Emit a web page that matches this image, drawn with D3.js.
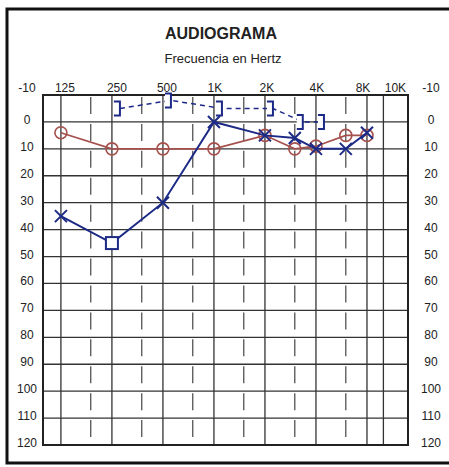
<!DOCTYPE html>
<html>
<head>
<meta charset="utf-8">
<script src="https://cdn.jsdelivr.net/npm/d3@7"></script>
<style>
  body { margin: 0; background: #fff; }
  text { font-family: "Liberation Sans", Arial, sans-serif; }
</style>
</head>
<body>
<div id="chart"></div>
<script>
// Data
const gridFreqs = [125, 250, 500, 1000, 2000, 4000, 8000, 10000];
const freqLabels = ["125", "250", "500", "1K", "2K", "4K", "8K", "10K"];
const midFreqs = [187.5, 375, 750, 1500, 3000, 6000];
const dbTicks = [-10, 0, 10, 20, 30, 40, 50, 60, 70, 80, 90, 100, 110, 120];

const testFreqs = [125, 250, 500, 1000, 2000, 3000, 4000, 6000, 8000];
const rightAir = [4, 10, 10, 10, 5, 10, 9, 5, 5];
const leftAir = [35, 45, 30, 0, 5, 6, 10, 10, 4];
const leftAirMarks = ["x", "square", "x", "x", "x", "x", "x", "x", "x"];

const boneFreqs = [250, 500, 1000, 2000, 3000, 4000];
const leftBone = [-5, -8, -5, -5, 0, 0];

// Layout
const W = 449, H = 467;
const plot = {left: 43, right: 408, top: 95, bottom: 445};

const svg = d3.select("#chart")
    .append("svg")
        .attr("width", W)
        .attr("height", H);

const x = d3.scaleLog().base(2)
    .domain([98, 13970])
    .range([plot.left, plot.right]);

const y = d3.scaleLinear()
    .domain([-10, 120])
    .range([plot.top, plot.bottom]);

const red = "#a5504c", blue = "#1c2a86";

// Outer frame
svg.append("path")
    .attr("d", `M${W + 5},9 H7 V463 H${W + 5}`)
    .attr("fill", "none")
    .attr("stroke", "#111")
    .attr("stroke-width", 3);

// Titles
svg.append("text")
    .attr("x", 221).attr("y", 39)
    .attr("text-anchor", "middle")
    .style("font-size", "16px").style("font-weight", "bold")
    .attr("fill", "#222")
    .text("AUDIOGRAMA");

svg.append("text")
    .attr("x", 223).attr("y", 63)
    .attr("text-anchor", "middle")
    .style("font-size", "13px")
    .attr("fill", "#222")
    .text("Frecuencia en Hertz");

// Grid: horizontal lines
svg.append("g")
    .selectAll("line")
    .data(dbTicks.slice(1, -1))
    .enter().append("line")
        .attr("x1", plot.left).attr("x2", plot.right)
        .attr("y1", d => y(d)).attr("y2", d => y(d))
        .attr("stroke", "#333").attr("stroke-width", 1.3);

// Grid: full vertical lines
svg.append("g")
    .selectAll("line")
    .data(gridFreqs)
    .enter().append("line")
        .attr("x1", d => x(d)).attr("x2", d => x(d))
        .attr("y1", plot.top).attr("y2", plot.bottom)
        .attr("stroke", "#333").attr("stroke-width", 1.3);

// Short ticks at inter-octave frequencies, one per band
const bands = dbTicks.slice(0, -1);
const shortTicks = [];
midFreqs.forEach(f => bands.forEach(b => shortTicks.push({f, b})));
svg.append("g")
    .selectAll("line")
    .data(shortTicks)
    .enter().append("line")
        .attr("x1", d => x(d.f)).attr("x2", d => x(d.f))
        .attr("y1", d => y(d.b) + 2).attr("y2", d => y(d.b) + 19)
        .attr("stroke", "#444").attr("stroke-width", 1.2);

// Plot border
svg.append("rect")
    .attr("x", plot.left).attr("y", plot.top)
    .attr("width", plot.right - plot.left)
    .attr("height", plot.bottom - plot.top)
    .attr("fill", "none")
    .attr("stroke", "#222").attr("stroke-width", 2);

// Frequency labels (top)
const labelShift = [4, 5, 4, 1, 2, 1, -4, 12];
svg.append("g")
    .selectAll("text")
    .data(gridFreqs)
    .enter().append("text")
        .attr("x", (d, i) => x(d) + labelShift[i])
        .attr("y", 92)
        .attr("text-anchor", "middle")
        .style("font-size", "12px")
        .attr("fill", "#222")
        .text((d, i) => freqLabels[i]);

// dB labels, left and right
const dbY = d => d === -10 ? 92 : y(d) + 2;
[27, 431].forEach(lx => {
    svg.append("g")
        .selectAll("text")
        .data(dbTicks)
        .enter().append("text")
            .attr("x", lx)
            .attr("y", dbY)
            .attr("text-anchor", "middle")
            .style("font-size", "12px")
            .attr("fill", "#222")
            .text(d => d);
});

// Left bone conduction: dashed line with "]" brackets
const bone = boneFreqs.map((f, i) => ({f, v: leftBone[i]}));
const bx = d => x(d.f) + 8;
svg.append("path")
    .datum(bone)
    .attr("d", d3.line().x(bx).y(d => y(d.v)))
    .attr("fill", "none")
    .attr("stroke", blue).attr("stroke-width", 1.5)
    .attr("stroke-dasharray", "5,4");

svg.append("g")
    .selectAll("path")
    .data(bone)
    .enter().append("path")
        .attr("d", d => {
            const cx = bx(d), cy = y(d.v);
            return `M${cx - 6},${cy - 7} H${cx} V${cy + 7} H${cx - 6}`;
        })
        .attr("fill", "white")
        .attr("stroke", blue).attr("stroke-width", 2);

// Right ear air conduction (red circles)
const right = testFreqs.map((f, i) => ({f, v: rightAir[i]}));
svg.append("path")
    .datum(right)
    .attr("d", d3.line().x(d => x(d.f)).y(d => y(d.v)))
    .attr("fill", "none")
    .attr("stroke", red).attr("stroke-width", 1.6);

svg.append("g")
    .selectAll("circle")
    .data(right)
    .enter().append("circle")
        .attr("cx", d => x(d.f))
        .attr("cy", d => y(d.v))
        .attr("r", 6)
        .attr("fill", "none")
        .attr("stroke", red).attr("stroke-width", 1.6);

// Left ear air conduction (blue X, square when masked)
const left = testFreqs.map((f, i) => ({f, v: leftAir[i], m: leftAirMarks[i]}));
svg.append("path")
    .datum(left)
    .attr("d", d3.line().x(d => x(d.f)).y(d => y(d.v)))
    .attr("fill", "none")
    .attr("stroke", blue).attr("stroke-width", 2);

const marks = svg.append("g")
    .selectAll("g")
    .data(left)
    .enter().append("g")
        .attr("transform", d => `translate(${x(d.f)},${y(d.v)})`);

marks.filter(d => d.m === "x").append("path")
    .attr("d", "M-6,-6 L6,6 M-6,6 L6,-6")
    .attr("stroke", blue).attr("stroke-width", 2);

marks.filter(d => d.m === "square").append("rect")
    .attr("x", -6).attr("y", -6)
    .attr("width", 12).attr("height", 12)
    .attr("fill", "white")
    .attr("stroke", blue).attr("stroke-width", 2);
</script>
</body>
</html>
